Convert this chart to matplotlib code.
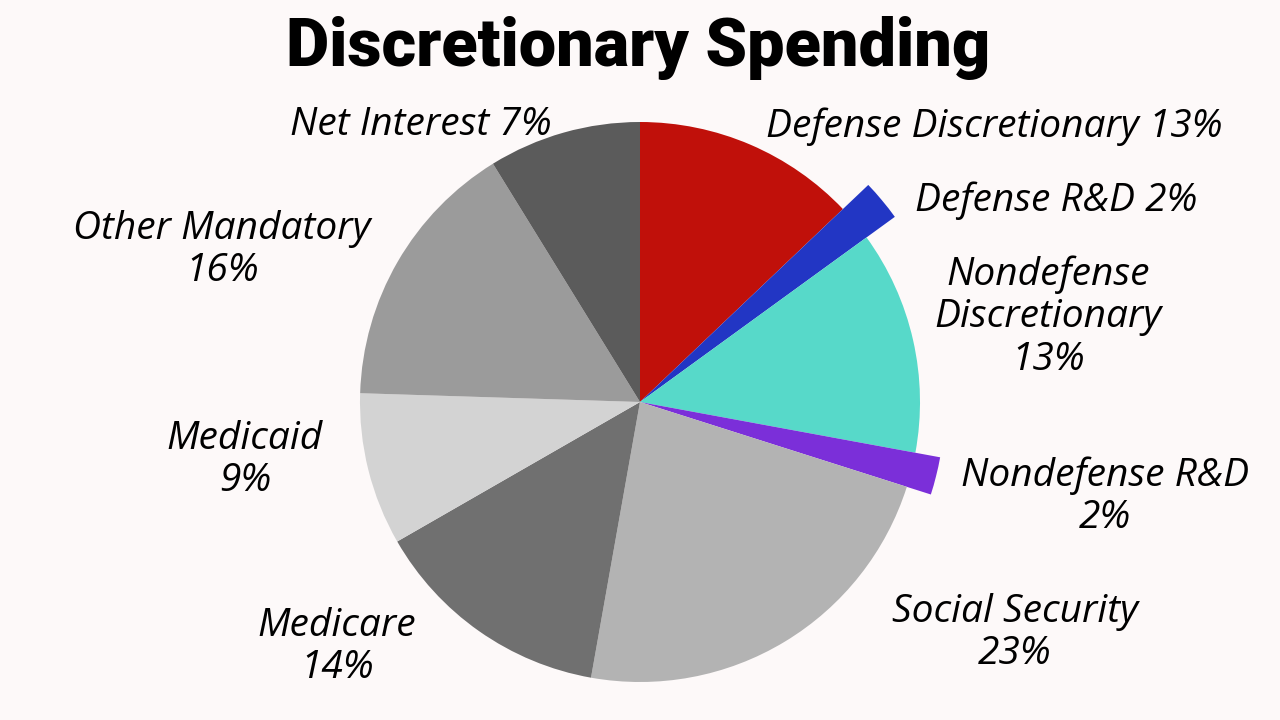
import matplotlib.pyplot as plt

categorias = [
    "Defense Discretionary", "Defense R&D", "Nondefense Discretionary",
    "Nondefense R&D", "Social Security", "Medicare", "Medicaid",
    "Other Mandatory", "Net Interest",
]
valores = [12.9, 2.1, 12.9, 2.0, 22.9, 13.9, 8.8, 15.7, 8.8]
rotulos = [
    "Defense Discretionary 13%", "Defense R&D 2%",
    "Nondefense\nDiscretionary\n13%", "Nondefense R&D\n2%",
    "Social Security\n23%", "Medicare\n14%", "Medicaid\n9%",
    "Other Mandatory\n16%", "Net Interest 7%",
]
cores = ["#c0100a", "#2236c4", "#57d9c9", "#7b2fd9", "#b3b3b3",
         "#707070", "#d3d3d3", "#9b9b9b", "#5b5b5b"]
destaque = {"Defense R&D": 1.125, "Nondefense R&D": 1.09}

fundo = "#fdf9f9"
W, H = 1280, 720
cx, cy, R = 640, 402, 280

fig = plt.figure(figsize=(12.8, 7.2), dpi=100, facecolor=fundo)
ax = fig.add_axes([0, 0, 1, 1])
ax.set_facecolor(fundo)

fatias, _ = ax.pie(valores, colors=cores, startangle=90, counterclock=False,
                   radius=1.0, wedgeprops={"linewidth": 0})
for nome, fatia in zip(categorias, fatias):
    if nome in destaque:
        fatia.set_radius(destaque[nome])

# eixo em unidades do raio, centro do gráfico em (cx, cy) pixels
ax.set_xlim(-cx / R, (W - cx) / R)
ax.set_ylim(-(H - cy) / R, cy / R)
ax.set_aspect("equal")
ax.axis("off")

# posições dos rótulos (pixels na imagem)
pos = {
    "Defense Discretionary": (994, 127),
    "Defense R&D": (1056, 201),
    "Nondefense Discretionary": (1048, 317),
    "Nondefense R&D": (1105, 497),
    "Social Security": (1015, 633),
    "Medicare": (337, 647),
    "Medicaid": (245, 460),
    "Other Mandatory": (222, 250),
    "Net Interest": (421, 125),
}
for nome, txt in zip(categorias, rotulos):
    x, y = pos[nome]
    fig.text(x / W, 1 - y / H, txt, ha="center", va="center",
             family="Open Sans", style="italic", fontsize=28,
             linespacing=1.15, color="black")

fig.text(638 / W, 1 - 48 / H, "Discretionary Spending", ha="center",
         va="center", family="Roboto", weight="black", fontsize=48,
         color="black")

fig.savefig("out.png", dpi=100, facecolor=fundo)
